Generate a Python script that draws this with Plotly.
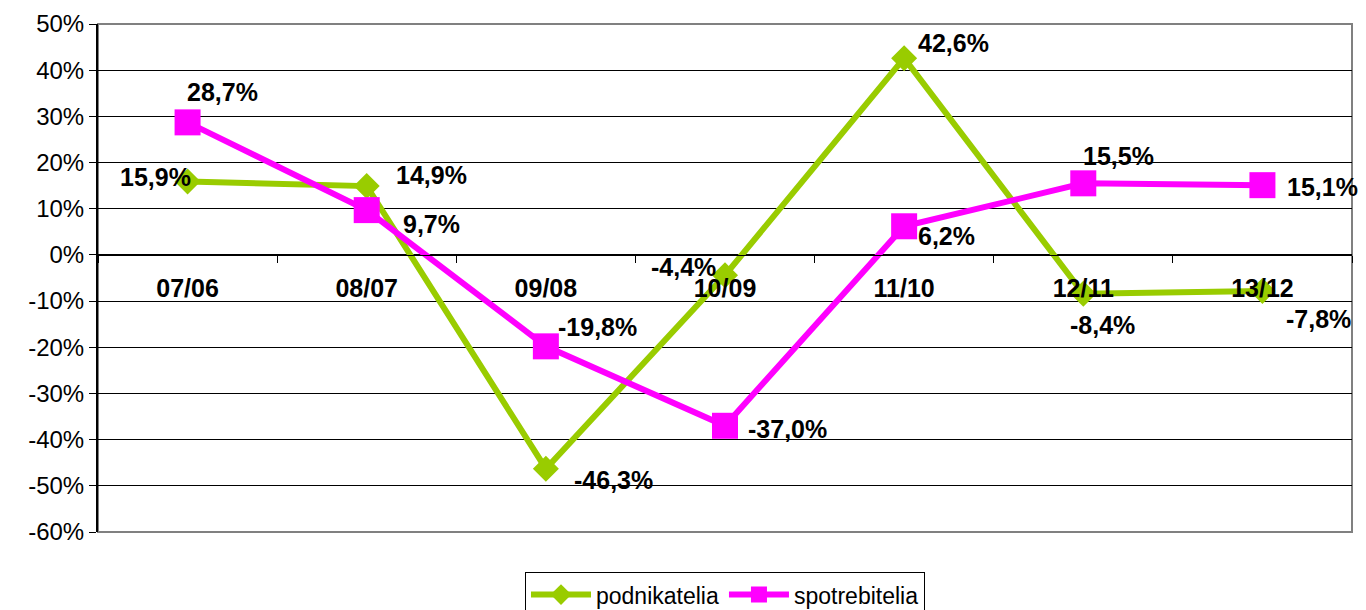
import plotly.graph_objects as go

# data
categories = ["07/06", "08/07", "09/08", "10/09", "11/10", "12/11", "13/12"]
podnikatelia = [15.9, 14.9, -46.3, -4.4, 42.6, -8.4, -7.8]
spotrebitelia = [28.7, 9.7, -19.8, -37.0, 6.2, 15.5, 15.1]
y_ticks = [50, 40, 30, 20, 10, 0, -10, -20, -30, -40, -50, -60]

GREEN = "#99CC00"
MAGENTA = "#FF00FF"
FONT = "Liberation Sans, Arial"

# label offsets (px) for each data label, (xshift, yshift)
pod_offsets = [(-32, 4), (65, 11), (68, -11), (-42, 8), (49, 15), (19, -31), (56, -28)]
spo_offsets = [(35, 30), (65, -14), (52, 19), (62, -3), (42, -10), (35, 27), (60, -2)]


def fmt(v):
    return ("%.1f" % v).replace(".", ",") + "%"


fig = go.Figure()
fig.add_trace(go.Scatter(
    x=categories, y=podnikatelia, name="podnikatelia", mode="lines+markers",
    line=dict(color=GREEN, width=6),
    marker=dict(symbol="diamond", size=20, color=GREEN),
))
fig.add_trace(go.Scatter(
    x=categories, y=spotrebitelia, name="spotrebitelia", mode="lines+markers",
    line=dict(color=MAGENTA, width=6),
    marker=dict(symbol="square", size=26, color=MAGENTA),
))

label_font = dict(family=FONT, size=25, color="black")
for vals, offs in ((podnikatelia, pod_offsets), (spotrebitelia, spo_offsets)):
    for c, v, (dx, dy) in zip(categories, vals, offs):
        fig.add_annotation(x=c, y=v, text="<b>%s</b>" % fmt(v), showarrow=False,
                           xshift=dx, yshift=dy, font=label_font)

# plot area border (grey top/right)
fig.add_shape(type="rect", xref="paper", yref="paper", x0=0, x1=1, y0=0, y1=1,
              line=dict(color="#808080", width=2), layer="below")

# page body adds an 8px margin, so the figure is a bit smaller than the window
fig.update_layout(
    width=1358, height=602,
    margin=dict(l=90, r=14, t=16, b=78, autoexpand=False),
    paper_bgcolor="white", plot_bgcolor="white",
    font=dict(family=FONT, color="black"),
    showlegend=True,
    legend=dict(orientation="h", x=0.5, xanchor="center", y=-0.079, yanchor="top",
                bordercolor="black", borderwidth=1,
                font=dict(size=23), itemwidth=60),
    xaxis=dict(
        type="category", anchor="free", position=60 / 110,
        tickson="boundaries", ticks="outside", ticklen=7, tickcolor="black",
        showline=True, linecolor="black", linewidth=1,
        showgrid=False, range=[-0.5, 6.5], automargin=False,
        tickfont=dict(size=25, family=FONT),
        ticklabelstandoff=11,
        tickprefix="<b>", ticksuffix="</b>",
    ),
    yaxis=dict(
        range=[-60, 50], tickmode="array", tickvals=y_ticks,
        ticktext=["%d%%" % t for t in y_ticks],
        ticks="outside", ticklen=7, tickcolor="black",
        showline=True, linecolor="black", linewidth=2,
        showgrid=True, gridcolor="black", gridwidth=1,
        zeroline=False, automargin=False,
        tickfont=dict(size=24, family=FONT),
    ),
)

fig.write_html("out.html")
